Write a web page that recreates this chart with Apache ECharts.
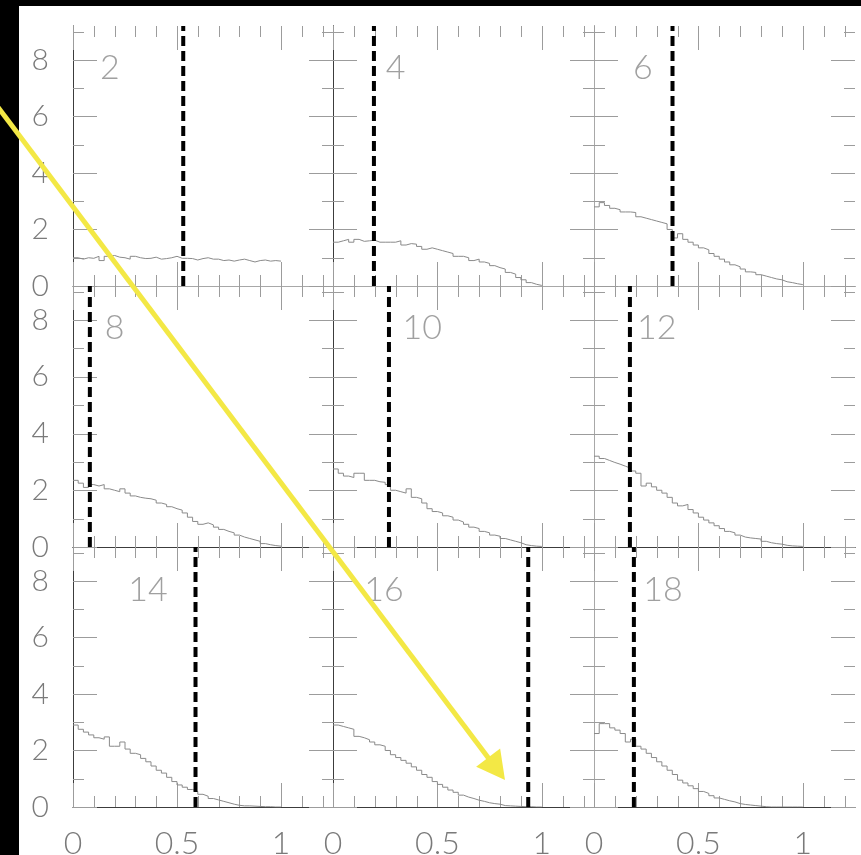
<!DOCTYPE html>
<html><head><meta charset="utf-8">
<script src="https://cdn.jsdelivr.net/npm/echarts@6/dist/echarts.min.js"></script>
<style>
html,body{margin:0;padding:0;background:#000;overflow:hidden;}
#bg{position:absolute;left:19px;top:6px;width:842px;height:849px;background:#fff;}
#c{position:absolute;left:0;top:0;width:861px;height:855px;}
</style>
</head><body><div id="bg"></div><div id="c"></div>
<script>
// ---------------- data ----------------
const panelLabels = ['2','4','6','8','10','12','14','16','18'];
const binEdges = [0,0.025,0.05,0.075,0.1,0.125,0.15,0.175,0.2,0.225,0.25,0.275,0.3,0.325,0.35,0.375,0.4,0.425,0.45,0.475,0.5,
  0.525,0.55,0.575,0.6,0.625,0.65,0.675,0.7,0.725,0.75,0.775,0.8,0.825,0.85,0.875,0.9,0.925,0.95,0.975,1.0];
const h2  = [1.0,0.95,1.0,0.98,1.05,0.9,1.05,1.08,1.02,1.0,0.95,1.05,1.0,0.97,0.98,1.02,0.95,0.97,1.0,1.05,0.98,0.98,0.97,0.92,0.97,1.0,0.95,0.95,0.9,0.92,0.88,0.92,0.95,0.9,0.85,0.9,0.92,0.88,0.9,0.88];
const h4  = [1.55,1.6,1.65,1.55,1.65,1.58,1.6,1.62,1.55,1.55,1.55,1.55,1.6,1.45,1.5,1.48,1.4,1.3,1.35,1.3,1.25,1.2,1.15,1.05,1.05,1.0,0.9,0.95,0.85,0.8,0.72,0.65,0.6,0.48,0.42,0.3,0.22,0.12,0.06,0.02];
const h6  = [2.8,2.95,2.85,2.75,2.7,2.62,2.62,2.6,2.45,2.4,2.35,2.3,2.25,2.2,2.0,1.7,1.85,1.65,1.55,1.45,1.35,1.28,1.15,1.05,0.95,0.85,0.75,0.68,0.6,0.5,0.48,0.4,0.35,0.3,0.25,0.22,0.15,0.12,0.08,0.05];
const h8  = [2.35,2.25,2.1,2.2,2.15,2.2,2.05,2.0,1.95,2.05,1.9,1.8,1.75,1.72,1.7,1.65,1.55,1.5,1.42,1.35,1.3,1.2,1.05,0.9,0.8,0.85,0.78,0.7,0.62,0.55,0.5,0.42,0.35,0.3,0.25,0.2,0.12,0.08,0.05,0.03];
const h10 = [2.75,2.6,2.5,2.45,2.6,2.6,2.35,2.35,2.3,2.28,2.2,2.0,1.95,1.9,2.05,1.75,1.7,1.55,1.35,1.25,1.2,1.1,1.05,0.95,0.88,0.8,0.7,0.65,0.55,0.5,0.42,0.38,0.3,0.25,0.2,0.15,0.08,0.05,0.03,0.02];
const h12 = [3.2,3.12,3.05,2.98,2.92,2.85,2.78,2.68,2.6,2.15,2.25,2.12,2.0,1.9,1.75,1.55,1.45,1.5,1.32,1.2,1.05,0.95,0.85,0.75,0.65,0.55,0.5,0.42,0.35,0.32,0.3,0.28,0.2,0.15,0.12,0.1,0.06,0.04,0.03,0.02];
const h14 = [2.9,2.75,2.65,2.55,2.45,2.4,2.48,2.15,2.15,2.3,2.05,1.9,1.85,1.72,1.6,1.45,1.3,1.2,1.05,0.9,0.78,0.7,0.62,0.55,0.45,0.38,0.3,0.25,0.2,0.15,0.1,0.06,0.04,0.04,0.03,0.02,0.01,0.01,0.0,0.0];
const h16 = [2.9,2.85,2.8,2.75,2.5,2.45,2.38,2.3,2.2,2.15,2.0,1.85,1.75,1.65,1.55,1.42,1.3,1.15,1.05,0.9,0.8,0.7,0.6,0.52,0.42,0.35,0.3,0.24,0.2,0.15,0.12,0.1,0.05,0.04,0.03,0.02,0.01,0.01,0.0,0.0];
const h18 = [2.6,2.95,2.95,2.8,2.72,2.6,2.3,2.4,2.15,2.05,1.9,1.75,1.6,1.45,1.3,1.15,0.95,0.85,0.75,0.65,0.55,0.48,0.4,0.32,0.27,0.22,0.18,0.12,0.09,0.07,0.05,0.03,0.01,0.0,0.0,0.0,0.0,0.0,0.0,0.0];
const histograms = [h2,h4,h6,h8,h10,h12,h14,h16,h18];
const cutoffs = [0.53,0.196,0.376,0.081,0.268,0.172,0.589,0.935,0.191];
const xTickLabels = [0,0.5,1];
const yTickLabels = [0,2,4,6,8];
const xMinorTicks = [0,0.1,0.2,0.3,0.4,0.5,0.6,0.7,0.8,0.9,1.0,1.1,1.2];
const xMajorTicks = [0,0.5,1];
const yMinorTicks = [0,1,2,3,4,5,6,7,8,9];
const yMajorTicks = [0,2,4,6,8];

// ---------------- layout ----------------
const X_MAX = 1.25, Y_MAX = 9.2;
const colLeft = [73,333,594], colWidth = [260,261,261];
const rowTop = [26,286,547], rowHeight = [260,261,260];
const labelAt = [[0.177,7.72],[0.30,7.72],[0.234,7.72],[0.2,7.72],[0.427,7.72],[0.30,7.72],[0.36,7.66],[0.244,7.66],[0.33,7.66]];
const DARK = '#3c3c3c', LIGHT = '#a8a8a8', TICK = '#9c9c9c';
const MAJOR_LEN = 24, MINOR_LEN = 11;
const FONT = 'Lato, "Open Sans", Roboto, sans-serif';

const grids = [], xAxes = [], yAxes = [], series = [];

function axisBase(gi, pos, lineColor) {
  return {
    type:'value', gridIndex:gi, position:pos,
    axisLine:{show:true, lineStyle:{color:lineColor, width:1}},
    axisTick:{show:false}, splitLine:{show:false}, minorTick:{show:false}, splitArea:{show:false}
  };
}
function xAxis(gi, pos, lineColor, showLabel) {
  return Object.assign(axisBase(gi,pos,lineColor), {
    min:0, max:X_MAX, interval:0.5,
    axisLabel:{show:showLabel, margin:21, fontSize:32, color:'#7a7a7a', fontFamily:FONT, fontWeight:300,
      formatter:v => xTickLabels.some(t => Math.abs(t-v) < 1e-9) ? String(v) : ''}
  });
}
function yAxis(gi, pos, lineColor, showLabel) {
  return Object.assign(axisBase(gi,pos,lineColor), {
    min:0, max:Y_MAX, interval:2,
    axisLabel:{show:showLabel, margin:24, fontSize:30, color:'#7a7a7a', fontFamily:FONT, fontWeight:300,
      formatter:v => yTickLabels.some(t => Math.abs(t-v) < 1e-9) ? String(v) : ''}
  });
}

// tick items: [kind (0 = x, 1 = y), value, major?]
const tickItems = [];
xMinorTicks.forEach(v => tickItems.push([0, v, 0]));
xMajorTicks.forEach(v => tickItems.push([0, v, 1]));
yMinorTicks.forEach(v => tickItems.push([1, v, 0]));
yMajorTicks.forEach(v => tickItems.push([1, v, 1]));

function renderTick(params, api) {
  const cs = params.coordSys;
  const kind = api.value(0), v = api.value(1), len = api.value(2) ? MAJOR_LEN : MINOR_LEN;
  const st = {stroke:TICK, lineWidth:1};
  if (kind === 0) {
    const px = Math.round(api.coord([v, 0])[0]) + 0.5;
    const yb = cs.y + cs.height, yt = cs.y;
    return {type:'group', children:[
      {type:'line', shape:{x1:px, y1:yb, x2:px, y2:yb-len}, style:st},
      {type:'line', shape:{x1:px, y1:yt, x2:px, y2:yt+len}, style:st}
    ]};
  } else {
    const py = Math.round(api.coord([0, v])[1]) + 0.5;
    const xl = cs.x, xr = cs.x + cs.width;
    return {type:'group', children:[
      {type:'line', shape:{x1:xl, y1:py, x2:xl+len, y2:py}, style:st},
      {type:'line', shape:{x1:xr, y1:py, x2:xr-len, y2:py}, style:st}
    ]};
  }
}

for (let i = 0; i < 9; i++) {
  const r = Math.floor(i/3), c = i%3;
  grids.push({left:colLeft[c], top:rowTop[r], width:colWidth[c], height:rowHeight[r],
    show:false, containLabel:false, outerBoundsMode:'none'});
  const bottomC = r < 2 ? DARK : LIGHT, topC = r > 0 ? DARK : LIGHT;
  const leftC = c > 0 ? DARK : LIGHT, rightC = c < 2 ? DARK : LIGHT;
  const xi = xAxes.length, yi = yAxes.length;
  xAxes.push(xAxis(i,'bottom',bottomC,r===2));
  xAxes.push(xAxis(i,'top',topC,false));
  yAxes.push(yAxis(i,'left',leftC,c===0));
  yAxes.push(yAxis(i,'right',rightC,false));

  series.push({
    type:'custom', xAxisIndex:xi, yAxisIndex:yi, silent:true, z:1,
    renderItem:renderTick, data:tickItems, encode:{x:1, y:1}
  });
  const h = histograms[i];
  series.push({
    type:'line', xAxisIndex:xi, yAxisIndex:yi, step:'end', symbol:'none', silent:true, z:3,
    data: binEdges.map((e,k) => [e, k < h.length ? h[k] : h[h.length-1]]),
    lineStyle:{color:'#8a8a8a', width:1}
  });
  series.push({
    type:'line', xAxisIndex:xi, yAxisIndex:yi, symbol:'none', silent:true, z:4,
    data:[[cutoffs[i],0],[cutoffs[i],Y_MAX]],
    lineStyle:{color:'#000', width:4, type:[10,5]}
  });
  series.push({
    type:'scatter', xAxisIndex:xi, yAxisIndex:yi, silent:true, z:5,
    data:[labelAt[i]], symbolSize:1, itemStyle:{color:'rgba(0,0,0,0)'},
    label:{show:true, position:'inside', formatter:panelLabels[i], fontSize:34, color:'#888',
      fontFamily:FONT, fontWeight:300}
  });
}

// yellow annotation arrow
const tip = [505,780], dir = [0.602,0.799], headLen = 28, headHalf = 15;
const base = [tip[0]-headLen*dir[0], tip[1]-headLen*dir[1]];
const perp = [-dir[1], dir[0]];
const YELLOW = '#f3e845';

const chart = echarts.init(document.getElementById('c'), null, {renderer:'canvas'});
chart.setOption({
  backgroundColor:'transparent',
  animation:false,
  grid:grids, xAxis:xAxes, yAxis:yAxes, series:series,
  graphic:[
    {type:'line', z:100, shape:{x1:-6, y1:102, x2:base[0]+2*dir[0], y2:base[1]+2*dir[1]},
      style:{stroke:YELLOW, lineWidth:5}},
    {type:'polygon', z:100, shape:{points:[tip,
      [base[0]+headHalf*perp[0], base[1]+headHalf*perp[1]],
      [base[0]-headHalf*perp[0], base[1]-headHalf*perp[1]]]},
      style:{fill:YELLOW}}
  ]
});
</script>
</body></html>
